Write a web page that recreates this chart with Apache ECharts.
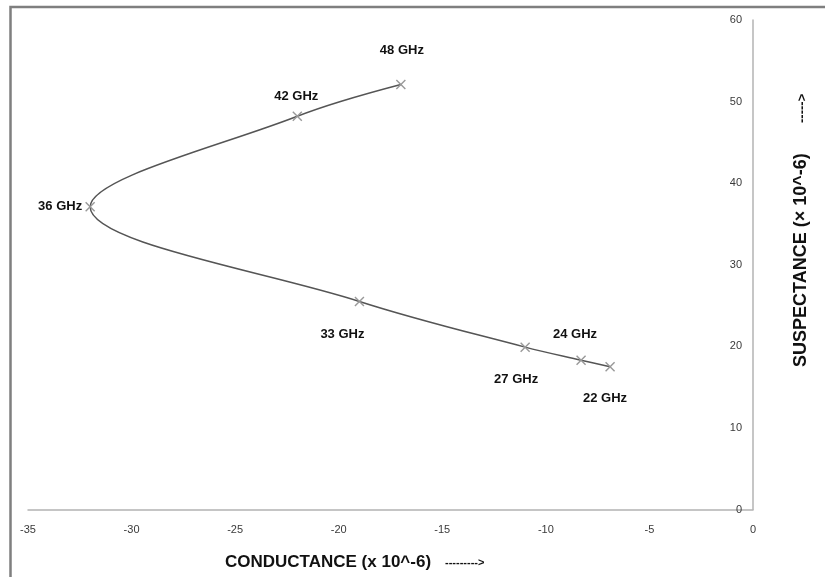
<!DOCTYPE html>
<html>
<head>
<meta charset="utf-8">
<script src="https://cdn.jsdelivr.net/npm/echarts@6/dist/echarts.min.js"></script>
<style>html,body{margin:0;padding:0;background:#fff;}#c{width:825px;height:577px;}</style>
</head>
<body>
<div id="c"></div>
<script>
// Data
const freqLabels  = ['22 GHz', '24 GHz', '27 GHz', '33 GHz', '36 GHz', '42 GHz', '48 GHz'];
const conductance = [-6.9, -8.3, -11.0, -19.0, -32.0, -22.0, -17.0];
const susceptance = [17.5, 18.3, 19.9, 25.5, 37.1, 48.2, 52.1];
const xTitle = 'CONDUCTANCE (x 10^-6)';
const xArrow = '--------->';
const yTitle = 'SUSPECTANCE (× 10^-6)';
const yArrow = '----->';

// label placement (style, not data)
const labelOffsets = [[-5, 32], [-6, -26], [-9, 32], [-17, 33], [-30, 0], [-1, -20], [1, -34]];

const chart = echarts.init(document.getElementById('c'));
const xSymbol = 'path://M0,1L1,0L5,4L9,0L10,1L6,5L10,9L9,10L5,6L1,10L0,9L4,5Z';
const FONT = 'Liberation Sans, Arial, sans-serif';

const seriesData = conductance.map((x, i) => ({
  value: [x, susceptance[i]],
  label: {
    show: true,
    formatter: freqLabels[i],
    position: 'inside',
    offset: labelOffsets[i],
    fontFamily: FONT,
    fontWeight: 'bold',
    fontSize: 13,
    color: '#111111'
  }
}));

const tickStyle = { fontFamily: FONT, fontSize: 11, color: '#3a3a3a' };

chart.setOption({
  animation: false,
  backgroundColor: '#ffffff',
  grid: { left: 28, right: 72, top: 20, bottom: 67.5, containLabel: false },
  xAxis: {
    type: 'value',
    min: -35, max: 0, interval: 5,
    position: 'bottom',
    axisLine: { show: true, onZero: false, lineStyle: { color: '#b3b3b3', width: 1.5 } },
    axisTick: { show: false },
    splitLine: { show: false },
    axisLabel: Object.assign({ margin: 15 }, tickStyle)
  },
  yAxis: {
    type: 'value',
    min: 0, max: 60, interval: 10,
    position: 'right',
    axisLine: { show: true, onZero: false, lineStyle: { color: '#b3b3b3', width: 1.5 } },
    axisTick: { show: false },
    splitLine: { show: false },
    axisLabel: Object.assign({ inside: true, margin: 11 }, tickStyle)
  },
  series: [{
    type: 'line',
    data: seriesData,
    smooth: 0.35,
    symbol: xSymbol,
    symbolSize: 10,
    showAllSymbol: true,
    lineStyle: { color: '#555555', width: 1.5 },
    itemStyle: { color: '#999999' },
    z: 3
  }],
  graphic: [
    {
      type: 'rect', silent: true, z: 0,
      shape: { x: 10.5, y: 7, width: 900, height: 700 },
      style: { fill: 'none', stroke: '#7f7f7f', lineWidth: 2.5 }
    },
    {
      type: 'text', silent: true, x: 225, y: 562,
      style: { text: xTitle, verticalAlign: 'middle', fontFamily: FONT, fontWeight: 'bold', fontSize: 17, fill: '#111' }
    },
    {
      type: 'text', silent: true, x: 445, y: 563,
      style: { text: xArrow, verticalAlign: 'middle', fontFamily: FONT, fontWeight: 'bold', fontSize: 11, fill: '#111' }
    },
    {
      type: 'text', silent: true, x: 801, y: 367, rotation: Math.PI / 2,
      style: { text: yTitle, verticalAlign: 'middle', fontFamily: FONT, fontWeight: 'bold', fontSize: 18, fill: '#111' }
    },
    {
      type: 'text', silent: true, x: 802, y: 123, rotation: Math.PI / 2,
      style: { text: yArrow, verticalAlign: 'middle', fontFamily: FONT, fontWeight: 'bold', fontSize: 13, fill: '#111' }
    }
  ]
});
</script>
</body>
</html>
